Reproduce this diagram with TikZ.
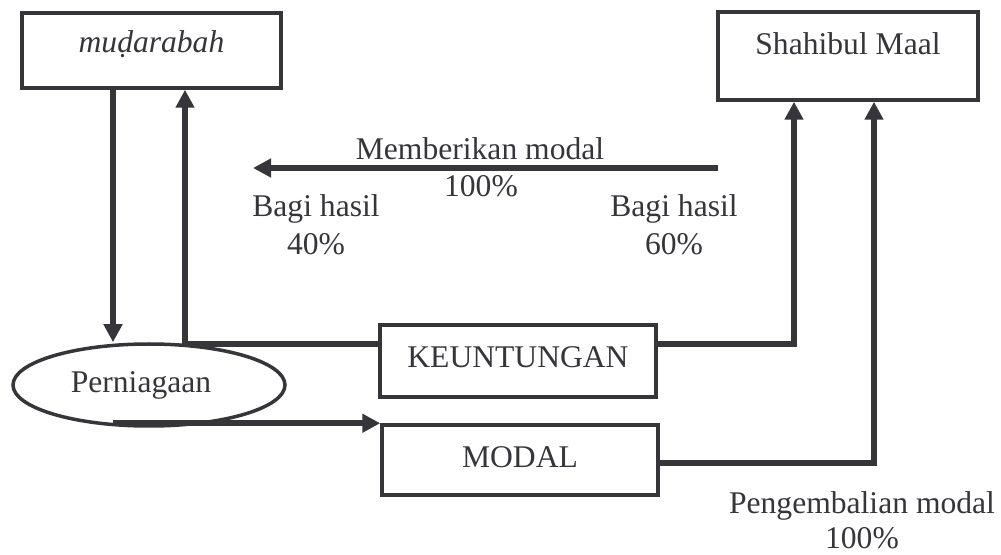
\documentclass[tikz,border=0pt]{standalone}
\usepackage{fontspec}
\setmainfont{Liberation Serif}
\usetikzlibrary{arrows.meta,shapes.geometric}
\definecolor{ink}{HTML}{36363A}
\begin{document}
\begin{tikzpicture}[x=0.5pt,y=-0.5pt,
  every node/.style={font=\fontsize{15.8}{17.5}\selectfont, text=ink},
  box/.style={draw=ink, line width=1.75pt, inner sep=0pt, fill=white},
  conn/.style={draw=ink, line width=2.75pt},
  arr/.style={conn, -{Triangle[length=9pt,width=9pt]}},
  lbl/.style={align=center, inner sep=0pt}]
\useasboundingbox (0,0) rectangle (1001,555);
% boxes
\node[box, minimum width=129.5pt, minimum height=37.5pt, text height=20pt, text depth=17.5pt] (mud) at (151.5,50.5) {\textit{muḍarabah}};
\node[box, minimum width=130pt, minimum height=44pt, text height=21.5pt, text depth=22.5pt] (sm) at (848,56) {Shahibul Maal};
\node[box, minimum width=138pt, minimum height=36pt, text height=21.5pt, text depth=14.5pt] (keu) at (518,361) {KEUNTUNGAN};
\node[box, minimum width=138pt, minimum height=35pt, text height=21pt, text depth=14pt] (modal) at (520,460) {MODAL};
\node[box, ellipse, minimum width=136pt, minimum height=41pt] (per) at (149,385) {Perniagaan\hspace*{8pt}};
% helper x positions
\coordinate (xa) at (113,0);
\coordinate (xb) at (185,0);
\coordinate (xc) at (794,0);
\coordinate (xd) at (874,0);
% connectors
\draw[arr] (xa |- mud.south) -- (xa |- per.north);
\draw[arr] ([yshift=8.5pt]keu.west) -| (xb |- mud.south);
\draw[arr] ([yshift=8.5pt]keu.east) -| (xc |- sm.south);
\draw[arr] (xa |- modal.north west) -- (modal.north west);
\draw[arr] ([yshift=-1.5pt]modal.east) -| (xd |- sm.south);
% free arrow
\coordinate (ms) at (718,168);
\coordinate (me) at (253,168);
\draw[arr] (ms) -- (me);
% labels
\node[lbl, anchor=base] (mm) at (480,160) {Memberikan modal};
\node[lbl, anchor=base] (mp) at (481,197) {100\%};
\node[lbl, anchor=base, font=\fontsize{15.8}{19}\selectfont] (bl) at (316,255) {Bagi hasil\\40\%};
\node[lbl, anchor=base, font=\fontsize{15.8}{19}\selectfont] (br) at (674,255) {Bagi hasil\\60\%};
\node[lbl, anchor=base, font=\fontsize{15.8}{17.5}\selectfont] (pm) at (862,548) {Pengembalian modal\\100\%};
\end{tikzpicture}
\end{document}
